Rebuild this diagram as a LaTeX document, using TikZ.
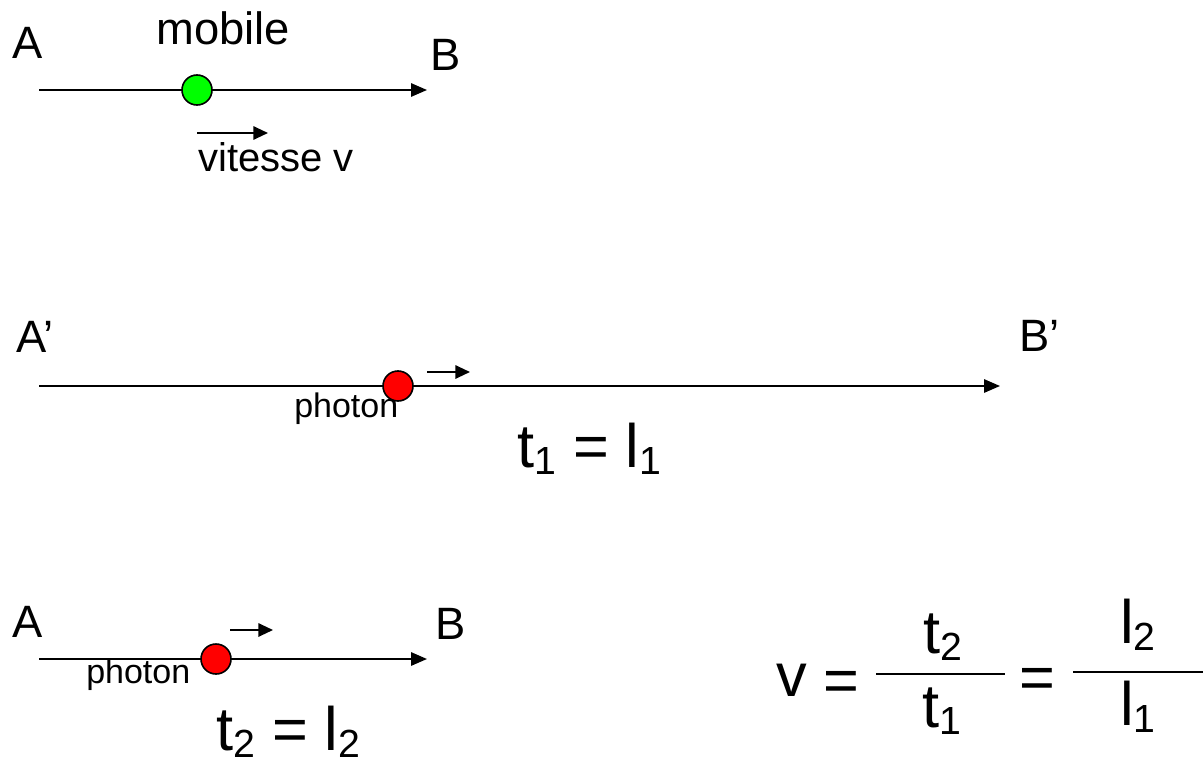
\documentclass[tikz,border=0pt]{standalone}
\usepackage{fontspec}
\setmainfont{Liberation Sans}
\usepackage{graphicx}
\usetikzlibrary{arrows.meta,positioning}
\definecolor{mobgreen}{RGB}{0,255,0}
\definecolor{photred}{RGB}{255,0,0}
\newcommand{\idx}[1]{\raisebox{-0.12em}{\scalebox{0.64}{#1}}}

\begin{document}
\begin{tikzpicture}[x=0.75pt, y=-0.75pt,
  axis/.style={line width=1.5pt, -{Triangle[length=12pt, width=10pt]}},
  vel/.style={line width=1.5pt, -{Triangle[length=11pt, width=10pt]}},
  lbl/.style={anchor=base west, inner sep=0pt, font=\fontsize{34}{40}\selectfont},
  small/.style={anchor=base west, inner sep=0pt, font=\fontsize{25.5}{30}\selectfont},
  big/.style={anchor=base, inner sep=0pt, font=\fontsize{46}{55}\selectfont},
  ball/.style={circle, draw, line width=1.2pt, minimum size=22.5pt, inner sep=0pt}
]
  \useasboundingbox (0,0) rectangle (1203,767);

  % the mobile on AB
  \node[lbl] (a1) at (12,59) {A};
  \node[lbl] (mob) at (156,45) {mobile};
  \node[lbl] (b1) at (430,70) {B};
  \coordinate (s1) at (39,90);
  \coordinate (e1) at (427,90);
  \draw[axis] (s1) -- (e1);
  \node[ball, fill=mobgreen] (m1) at (197,90) {};
  \coordinate (v1s) at (197,133);
  \coordinate (v1e) at (268,133);
  \draw[vel] (v1s) -- (v1e);
  \node[lbl, font=\fontsize{30}{36}\selectfont] (vit) at (198,171) {vitesse v};

  % the photon on A'B'
  \node[lbl] (a2) at (16,352) {A’};
  \node[lbl] (b2) at (1019,351) {B’};
  \coordinate (s2) at (39,386);
  \coordinate (e2) at (1000,386);
  \draw[axis] (s2) -- (e2);
  \node[small] (ph2) at (294,417) {photon};
  \node[ball, fill=photred] (p2) at (398,386) {};
  \coordinate (v2s) at (427,372);
  \coordinate (v2e) at (470,372);
  \draw[vel] (v2s) -- (v2e);
  \node[big, anchor=base west] (eqt1) at (517,467) {t\idx{1} = l\idx{1}};

  % the photon on AB
  \node[lbl] (a3) at (12,637) {A};
  \node[lbl] (b3) at (435,639) {B};
  \coordinate (s3) at (39,659);
  \coordinate (e3) at (427,659);
  \draw[axis] (s3) -- (e3);
  \node[small] (ph3) at (86,683) {photon};
  \node[ball, fill=photred] (p3) at (216,659) {};
  \coordinate (v3s) at (230,630);
  \coordinate (v3e) at (273,630);
  \draw[vel] (v3s) -- (v3e);
  \node[big, anchor=base west] (eqt2) at (216,750) {t\idx{2} = l\idx{2}};

  % v = t2/t1 = l2/l1
  \node[big, anchor=base west] (vv) at (776,696) {v};
  \node[big] (eqa) at (841,701) {=};
  \node[big] (nt2) at (943,653) {t\idx{2}};
  \node[big] (nt1) at (942,727) {t\idx{1}};
  \draw[line width=2pt] (876,674) -- (1005,674);
  \node[big] (eqb) at (1037,698) {=};
  \node[big] (nl2) at (1138,643) {l\idx{2}};
  \node[big] (nl1) at (1138,725) {l\idx{1}};
  \draw[line width=2pt] (1073,672) -- (1203,672);
\end{tikzpicture}
\end{document}
